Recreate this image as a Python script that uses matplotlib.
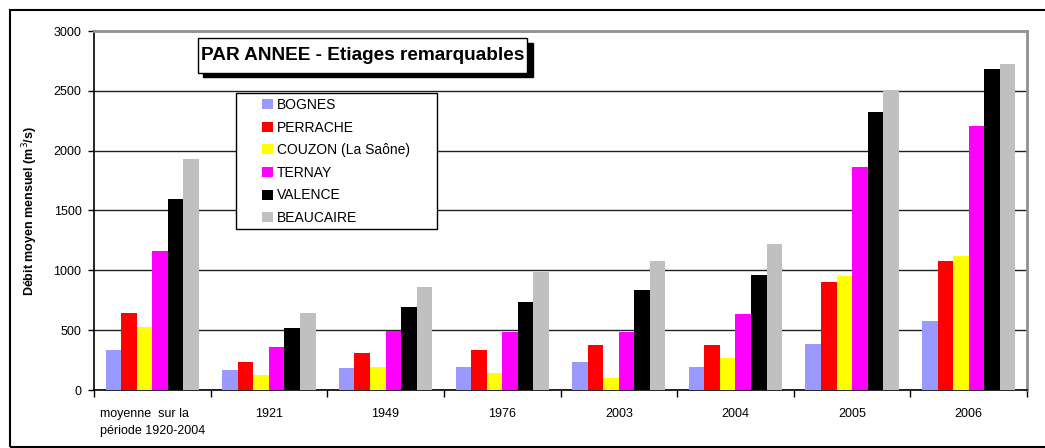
import numpy as np
import matplotlib
matplotlib.use("Agg")
from matplotlib import pyplot as plt
from matplotlib.patches import Rectangle

plt.rcParams['font.family'] = ['Liberation Sans', 'DejaVu Sans']

# categories (x axis) and stations (series)
categories = ["moyenne  sur la\npériode 1920-2004", "1921", "1949", "1976",
              "2003", "2004", "2005", "2006"]
stations = ["BOGNES", "PERRACHE", "COUZON (La Saône)", "TERNAY", "VALENCE", "BEAUCAIRE"]
colors = ["#9999FF", "#FF0000", "#FFFF00", "#FF00FF", "#000000", "#C0C0C0"]

# debit moyen mensuel (m3/s)
bognes    = [334, 167, 184, 195, 234, 195, 387, 576]
perrache  = [643, 234, 306, 334, 376, 376, 905, 1075]
couzon    = [526, 125, 195, 145, 103, 267, 955, 1117]
ternay    = [1164, 357, 496, 485, 485, 635, 1866, 2205]
valence   = [1593, 515, 696, 738, 835, 960, 2325, 2682]
beaucaire = [1932, 643, 858, 985, 1076, 1220, 2504, 2723]
series = [bognes, perrache, couzon, ternay, valence, beaucaire]

W, H = 1045, 448
fig = plt.figure(figsize=(W / 100, H / 100), dpi=100)

# helpers to place things in figure pixels (measured from the top-left)
def fx(px):
    return px / W

def fy(py):
    return 1 - py / H

ax = fig.add_axes([fx(94), fy(390), fx(1027) - fx(94), fy(31) - fy(390)])

x = np.arange(len(categories))
n = len(series)
bw = 0.8 / n
bars = []
for i, vals in enumerate(series):
    b = ax.bar(x + (i - (n - 1) / 2) * bw, vals, width=bw, color=colors[i],
               label=stations[i], zorder=3, linewidth=0)
    bars.append(b)

ax.set_xlim(-0.5, len(categories) - 0.5)
ax.set_ylim(0, 3000)
ax.set_yticks(np.arange(0, 3001, 500))
ax.yaxis.grid(True, color="#202020", linewidth=1, zorder=0)
ax.set_axisbelow(True)

# ticks between categories, labels at the centres
ax.set_xticks(np.arange(-0.5, len(categories), 1))
ax.set_xticklabels([])
ax.set_xticks(x, minor=True)
ax.set_xticklabels(categories, minor=True, fontsize=9, multialignment='left',
                   linespacing=1.55)
ax.tick_params(axis='x', which='minor', length=0, pad=13)
ax.tick_params(axis='x', which='major', length=5, width=1, direction='out')
ax.tick_params(axis='y', length=4, width=1, direction='out', labelsize=9, pad=5)

for s in ["top", "right"]:
    ax.spines[s].set_color("#909090")
    ax.spines[s].set_linewidth(2)
for s in ["left", "bottom"]:
    ax.spines[s].set_color("black")
    ax.spines[s].set_linewidth(1.2)

ax.set_ylabel("Débit moyen mensuel (m$^{3}$/s)", fontsize=9, fontweight='bold')
ax.yaxis.set_label_coords(-0.058, 0.5)

# title box with shadow
fig.patches.append(Rectangle((fx(203), fy(77)), fx(533) - fx(203), fy(43) - fy(77),
                             transform=fig.transFigure, facecolor="black",
                             edgecolor="black", zorder=5))
fig.patches.append(Rectangle((fx(198), fy(73)), fx(527) - fx(198), fy(38) - fy(73),
                             transform=fig.transFigure, facecolor="white",
                             edgecolor="black", linewidth=1, zorder=6))
fig.text(fx(363), fy(56), "PAR ANNEE - Etiages remarquables", fontsize=13.7,
         fontweight='bold', ha='center', va='center', zorder=7)

# legend with a wide frame
fig.patches.append(Rectangle((fx(236), fy(229)), fx(437) - fx(236), fy(93) - fy(229),
                             transform=fig.transFigure, facecolor="white",
                             edgecolor="black", linewidth=1, zorder=4))
leg = fig.legend(handles=bars, labels=stations, loc='upper left',
                 bbox_to_anchor=(fx(262), fy(98)), bbox_transform=fig.transFigure,
                 frameon=False, fontsize=10, borderpad=0, borderaxespad=0,
                 handlelength=0.8, handleheight=0.75, handletextpad=0.25,
                 labelspacing=0.62)
leg.set_zorder(5)

# outer frame of the chart
fig.patches.append(Rectangle((fx(10), fy(447)), fx(1060) - fx(10), fy(10) - fy(447),
                             transform=fig.transFigure, facecolor="none",
                             edgecolor="black", linewidth=1.5, zorder=10))

fig.savefig("out.png", dpi=100)
